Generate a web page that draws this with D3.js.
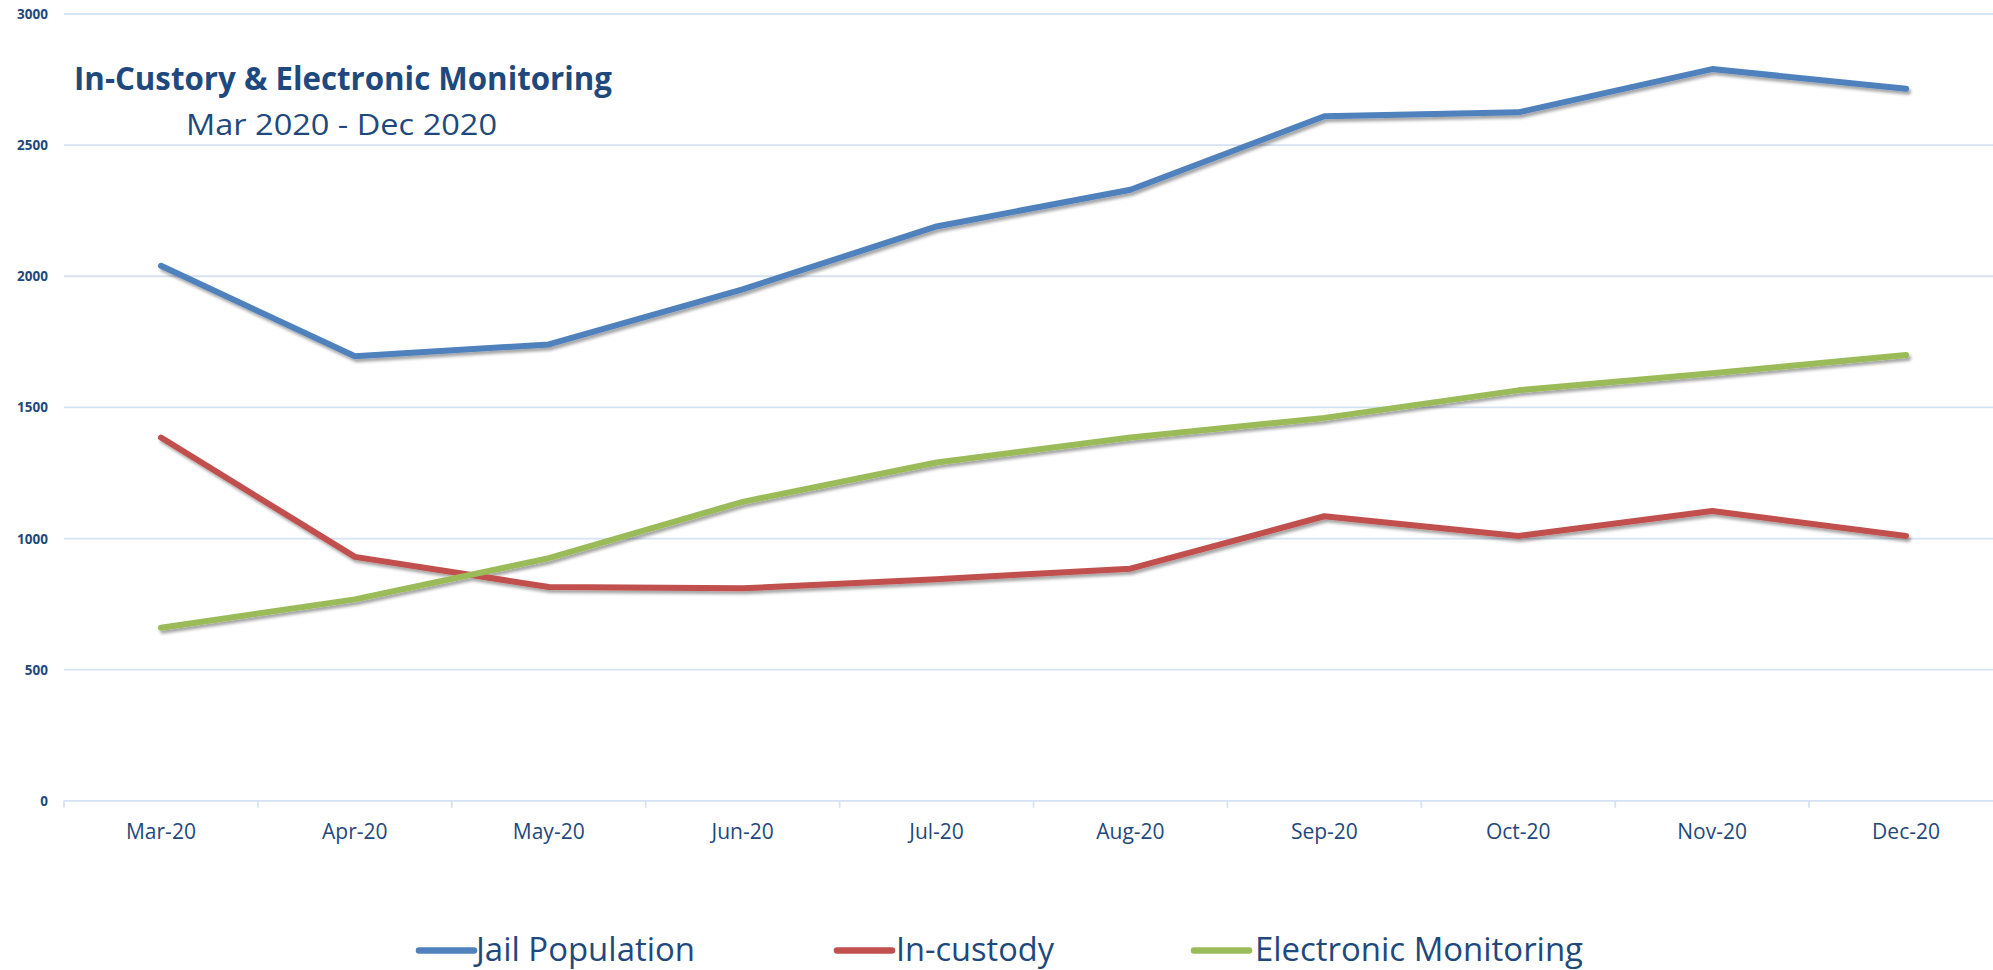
<!DOCTYPE html>
<html>
<head>
<meta charset="utf-8">
<script src="https://cdn.jsdelivr.net/npm/d3@7"></script>
<style>
  html, body { margin: 0; padding: 0; background: #fff; }
  svg { display: block; }
  text { font-family: "Open Sans", "Noto Sans", sans-serif; }
</style>
</head>
<body>
<script>
const categories = ["Mar-20","Apr-20","May-20","Jun-20","Jul-20","Aug-20","Sep-20","Oct-20","Nov-20","Dec-20"];
const jailPopulation = [2040, 1695, 1740, 1950, 2190, 2330, 2610, 2625, 2790, 2715];
const inCustody = [1385, 930, 815, 810, 845, 885, 1085, 1010, 1105, 1010];
const electronicMonitoring = [660, 768, 925, 1140, 1290, 1385, 1460, 1565, 1630, 1700];
const yTicks = [0, 500, 1000, 1500, 2000, 2500, 3000];
const seriesNames = ["Jail Population", "In-custody", "Electronic Monitoring"];
const titleText = "In-Custory & Electronic Monitoring";
const subtitleText = "Mar 2020 - Dec 2020";

const W = 1993, H = 970;
const textColor = "#1F497D";
const gridColor = "#D5E2F2";
const colors = ["#4F81BD", "#C0504D", "#9BBB59"];

const svg = d3.select("body").append("svg").attr("width", W).attr("height", H);

const defs = svg.append("defs");
const f = defs.append("filter").attr("id", "shadow").attr("x", "-5%").attr("y", "-5%").attr("width", "110%").attr("height", "120%");
f.append("feDropShadow").attr("dx", 2).attr("dy", 3).attr("stdDeviation", 1.6)
  .attr("flood-color", "#000").attr("flood-opacity", 0.35);

const x = d3.scaleBand().domain(categories).range([64, 2003]).padding(0);
const y = d3.scaleLinear().domain([0, 3000]).range([800.8, 14]);

// gridlines
svg.append("g").selectAll("line").data(yTicks).join("line")
  .attr("x1", 64).attr("x2", 2003)
  .attr("y1", d => y(d)).attr("y2", d => y(d))
  .attr("stroke", gridColor).attr("stroke-width", 1.8);

// x ticks at band boundaries
const boundaries = categories.map(c => x(c)).concat([x(categories[categories.length - 1]) + x.bandwidth()]);
svg.append("g").selectAll("line").data(boundaries).join("line")
  .attr("x1", d => d).attr("x2", d => d)
  .attr("y1", y(0)).attr("y2", y(0) + 7)
  .attr("stroke", gridColor).attr("stroke-width", 1.8);

// y labels
svg.append("g").selectAll("text").data(yTicks).join("text")
  .attr("x", 48).attr("y", d => y(d) + 5)
  .attr("text-anchor", "end")
  .attr("font-size", 13.5).attr("font-weight", "bold")
  .attr("fill", textColor)
  .text(d => d);

// x labels
svg.append("g").selectAll("text").data(categories).join("text")
  .attr("x", d => x(d) + x.bandwidth() / 2).attr("y", 839)
  .attr("text-anchor", "middle")
  .attr("font-size", 21)
  .attr("fill", textColor)
  .text(d => d);

// lines
const allSeries = [jailPopulation, inCustody, electronicMonitoring];
const line = d3.line()
  .x((d, i) => x(categories[i]) + x.bandwidth() / 2)
  .y(d => y(d));

svg.append("g").attr("filter", "url(#shadow)").selectAll("path").data(allSeries).join("path")
  .attr("d", d => line(d))
  .attr("fill", "none")
  .attr("stroke", (d, i) => colors[i])
  .attr("stroke-width", 6)
  .attr("stroke-linecap", "round")
  .attr("stroke-linejoin", "round");

// title
svg.append("text").attr("x", 74).attr("y", 89.5)
  .attr("font-size", 31.5).attr("font-weight", "bold").attr("fill", textColor)
  .attr("textLength", 538).attr("lengthAdjust", "spacingAndGlyphs")
  .text(titleText);
svg.append("text").attr("x", 186).attr("y", 134.5)
  .attr("font-size", 29.5).attr("fill", textColor)
  .attr("textLength", 311).attr("lengthAdjust", "spacingAndGlyphs")
  .text(subtitleText);

// legend
const legendItems = [
  { name: seriesNames[0], color: colors[0], lx: 419, tx: 476, tw: 219 },
  { name: seriesNames[1], color: colors[1], lx: 837, tx: 896, tw: 158 },
  { name: seriesNames[2], color: colors[2], lx: 1194, tx: 1255, tw: 328 }
];
const lg = svg.append("g");
legendItems.forEach(it => {
  lg.append("line")
    .attr("x1", it.lx).attr("x2", it.lx + 55)
    .attr("y1", 950.5).attr("y2", 950.5)
    .attr("stroke", it.color).attr("stroke-width", 6.5)
    .attr("stroke-linecap", "round");
  lg.append("text")
    .attr("x", it.tx).attr("y", 961)
    .attr("font-size", 32).attr("fill", textColor)
    .attr("textLength", it.tw).attr("lengthAdjust", "spacingAndGlyphs")
    .text(it.name);
});
</script>
</body>
</html>
